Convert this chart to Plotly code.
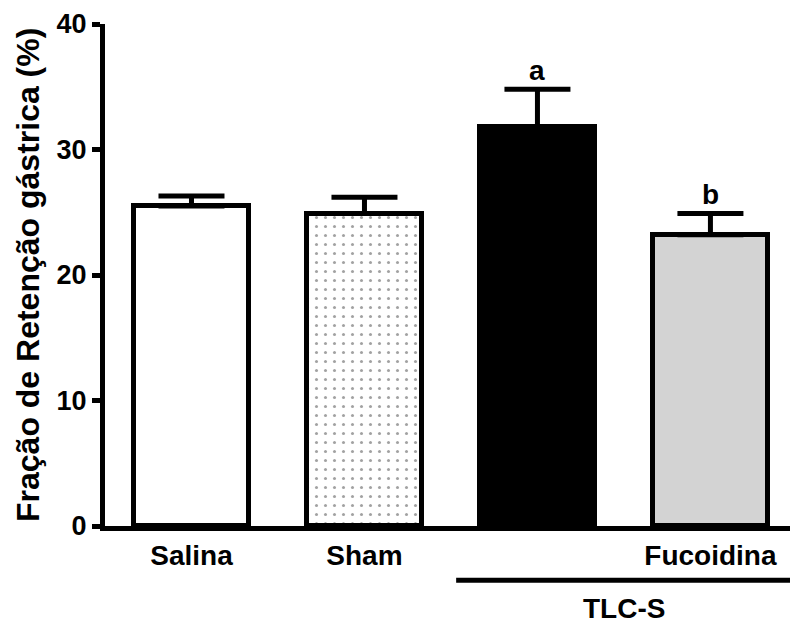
import plotly.graph_objects as go

# Gastric retention fraction per group (mean and SEM, %)
groups = ["Salina", "Sham", "TLC-S", "Fucoidina"]
tick_text = ["Salina", "Sham", "", "Fucoidina"]
means = [25.5, 24.9, 31.8, 23.2]
sem = [0.8, 1.3, 3.0, 1.7]
sig_letters = ["", "", "a", "b"]
y_ticks = [0, 10, 20, 30, 40]

FONT = "Liberation Sans, Arial, Helvetica, sans-serif"
xpos = list(range(len(groups)))

fill_colors = ["white", "white", "black", "#d3d3d3"]
pattern_shapes = ["", ".", "", ""]

fig = go.Figure()
fig.add_trace(go.Bar(
    x=xpos,
    y=means,
    width=0.665,
    marker=dict(
        color=fill_colors,
        line=dict(color="black", width=5),
        pattern=dict(shape=pattern_shapes, fgcolor="black", bgcolor="white",
                     size=9, solidity=0.09, fillmode="overlay"),
    ),
    error_y=dict(type="data", symmetric=False, array=sem,
                 arrayminus=[0] * len(sem), color="black",
                 thickness=5, width=33),
    showlegend=False,
    hoverinfo="skip",
))

# significance letters above the error caps
for xi, m, s, lab in zip(xpos, means, sem, sig_letters):
    if lab:
        fig.add_annotation(x=xi, y=m + s, text=lab, showarrow=False,
                           yanchor="middle", yshift=19,
                           font=dict(family=FONT, size=28, color="black",
                                     weight="bold"))

# group bracket for the TLC-S treated bars
fig.add_shape(type="line", xref="x", yref="paper",
              x0=2 - 0.47, x1=3.46, y0=-0.108, y1=-0.108,
              line=dict(color="black", width=5))
fig.add_annotation(x=2.5, xref="x", y=-0.194, yref="paper", text="TLC-S",
                   showarrow=False, yanchor="bottom", yshift=-3,
                   font=dict(family=FONT, size=28, color="black", weight="bold"))

# y-axis title
fig.add_annotation(x=-0.1124, xref="paper", y=0.5, yref="paper",
                   text="Fração de Retenção gástrica (%)", textangle=-90,
                   showarrow=False, xanchor="center", yanchor="middle",
                   font=dict(family=FONT, size=32, color="black", weight="bold"))

fig.update_layout(
    width=790, height=624,
    margin=dict(l=105, r=0, t=24, b=97.5, autoexpand=False),
    paper_bgcolor="white", plot_bgcolor="white",
    bargap=0,
    xaxis=dict(
        range=[-0.5, 3.46], tickmode="array", tickvals=xpos, ticktext=tick_text,
        showline=True, linecolor="black", linewidth=5,
        ticks="", showgrid=False, zeroline=False,
        tickfont=dict(family=FONT, size=28, color="black", weight="bold"),
        ticklabelstandoff=0,
    ),
    yaxis=dict(
        range=[0, 40], tickmode="array", tickvals=y_ticks,
        showline=True, linecolor="black", linewidth=5,
        ticks="outside", ticklen=8, tickwidth=5, tickcolor="black",
        showgrid=False, zeroline=False,
        tickfont=dict(family=FONT, size=27, color="black", weight="bold"),
    ),
)

fig.write_html("out.html")
